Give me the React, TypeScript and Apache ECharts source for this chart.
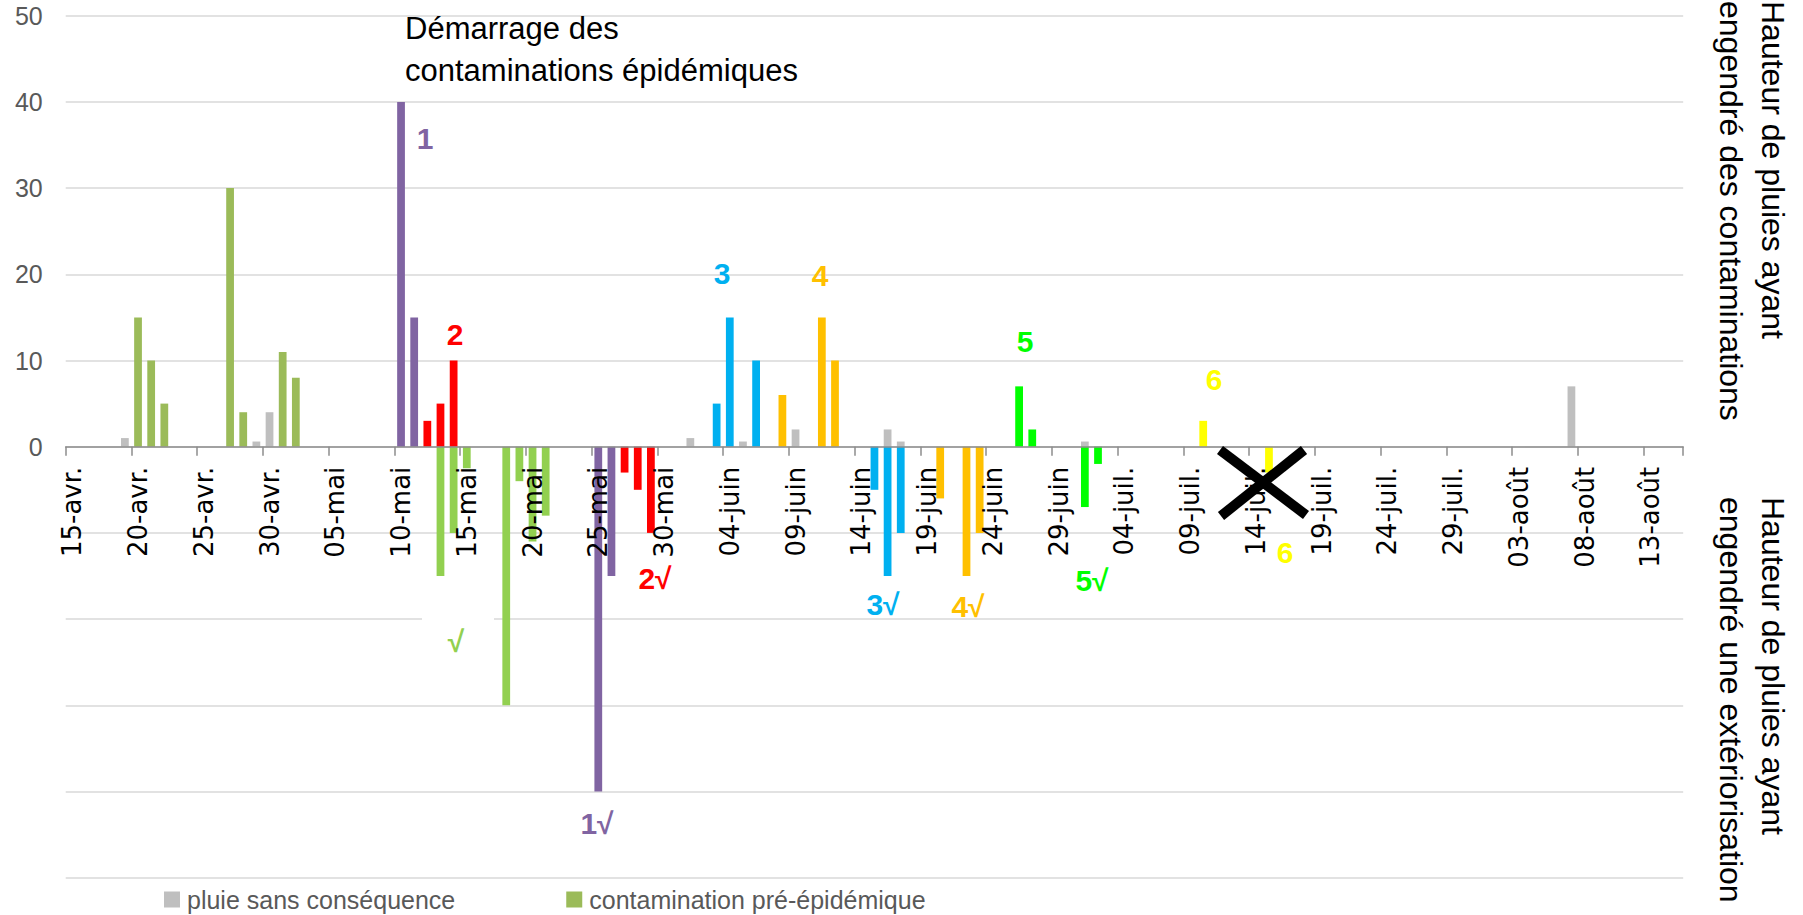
import React, { useEffect, useRef } from "react";
import * as echarts from "echarts";

// ---- categories (days from 15-avr. to 15-août) ----
const monthNames: [string, number, number][] = [
  ["avr.", 15, 30],
  ["mai", 1, 31],
  ["juin", 1, 30],
  ["juil.", 1, 31],
  ["août", 1, 15],
];
const categories: string[] = [];
for (const [name, from, to] of monthNames) {
  for (let d = from; d <= to; d++) categories.push(`${d < 10 ? "0" + d : d}-${name}`);
}

// ---- series values [date, height] ----
const pluieSansConsequence: [string, number][] = [
  ["19-avr.", 1], ["29-avr.", 0.6], ["30-avr.", 4], ["01-juin", 1], ["05-juin", 0.6],
  ["09-juin", 2], ["16-juin", 2], ["17-juin", 0.6], ["01-juil.", 0.6], ["07-août", 7],
];
const contaminationPreEpidemique: [string, number][] = [
  ["20-avr.", 15], ["21-avr.", 10], ["22-avr.", 5], ["27-avr.", 30], ["28-avr.", 4],
  ["01-mai", 11], ["02-mai", 8],
];
const exteriorisationPreEpidemique: [string, number][] = [
  ["13-mai", -15], ["14-mai", -10], ["15-mai", -2.5], ["18-mai", -30], ["19-mai", -4],
  ["20-mai", -11], ["21-mai", -8],
];
const episode1: [string, number][] = [["10-mai", 40], ["11-mai", 15], ["25-mai", -40], ["26-mai", -15]];
const episode2: [string, number][] = [
  ["12-mai", 3], ["13-mai", 5], ["14-mai", 10], ["27-mai", -3], ["28-mai", -5], ["29-mai", -10],
];
const episode3: [string, number][] = [
  ["03-juin", 5], ["04-juin", 15], ["06-juin", 10], ["15-juin", -5], ["16-juin", -15], ["17-juin", -10],
];
const episode4: [string, number][] = [
  ["08-juin", 6], ["11-juin", 15], ["12-juin", 10], ["20-juin", -6], ["22-juin", -15], ["23-juin", -10],
];
const episode5: [string, number][] = [["26-juin", 7], ["27-juin", 2], ["01-juil.", -7], ["02-juil.", -2]];
const episode6: [string, number][] = [["10-juil.", 3], ["15-juil.", -3]];

const yTicks = { min: -50, max: 50, interval: 10 };

const toData = (pairs: [string, number][]) => {
  const m = new Map(pairs);
  return categories.map((c) => (m.has(c) ? m.get(c)! : null));
};

const SANS = "'Liberation Sans', Arial, sans-serif";

const GRID_TOP = 15.7;
const GRID_BOTTOM = 37.3;
const CHART_H = 915;

export default function App() {
  const ref = useRef<HTMLDivElement>(null);
  useEffect(() => {
    if (!ref.current) return;
    const chart = echarts.init(ref.current, null, { renderer: "svg" });
    const bar = (name: string, pairs: [string, number][], color: string) => ({
      name,
      type: "bar",
      stack: "all",
      data: toData(pairs),
      itemStyle: { color },
      barCategoryGap: "41%",
    });
    const label = (text: string, x: number, y: number, color: string) => ({
      type: "text",
      x,
      y,
      z: 100,
      style: {
        text,
        fill: color,
        fontSize: 30,
        fontWeight: "bold",
        fontFamily: SANS,
        align: "center",
        verticalAlign: "middle",
        textAlign: "center",
        textVerticalAlign: "middle",
      },
    });
    // distance from the grid bottom up to the value 0 (axis placed on zero)
    const plotH = CHART_H - GRID_TOP - GRID_BOTTOM;
    const zeroOffset = -(plotH * (0 - yTicks.min)) / (yTicks.max - yTicks.min);
    const option: any = {
      animation: false,
      backgroundColor: "#ffffff",
      grid: {
        left: 65.7,
        right: 119.8,
        top: GRID_TOP,
        bottom: GRID_BOTTOM,
        containLabel: false,
        outerBoundsMode: "none",
      },
      xAxis: {
        type: "category",
        data: categories,
        boundaryGap: true,
        position: "bottom",
        offset: zeroOffset,
        z: 10,
        axisLine: { onZero: false, lineStyle: { color: "#8C8C8C", width: 1.5 } },
        axisTick: { show: true, interval: 4, length: 9, lineStyle: { color: "#8C8C8C", width: 1.5 } },
        axisLabel: {
          interval: 4,
          rotate: 90,
          margin: 20,
          fontSize: 26,
          fontFamily: "'DejaVu Sans', sans-serif",
          color: "#000000",
        },
        splitLine: { show: false },
      },
      yAxis: {
        type: "value",
        min: yTicks.min,
        max: yTicks.max,
        interval: yTicks.interval,
        axisLine: { show: false },
        axisTick: { show: false },
        axisLabel: {
          formatter: (v: number) => (v >= 0 ? String(v) : ""),
          fontSize: 25,
          color: "#595959",
          margin: 23,
          fontFamily: SANS,
        },
        splitLine: { lineStyle: { color: "#D9D9D9", width: 1.5 } },
      },
      legend: {
        data: ["pluie sans conséquence", "contamination pré-épidémique"],
        left: 164,
        top: 887,
        padding: 0,
        icon: "rect",
        itemWidth: 16,
        itemHeight: 16,
        itemGap: 111,
        textStyle: { fontSize: 25, color: "#595959", fontFamily: SANS, padding: [0, 0, 0, 2] },
      },
      series: [
        bar("pluie sans conséquence", pluieSansConsequence, "#BFBFBF"),
        bar("contamination pré-épidémique", contaminationPreEpidemique, "#9BBB59"),
        bar("extériorisation pré-épidémique", exteriorisationPreEpidemique, "#92D050"),
        bar("épisode 1", episode1, "#8064A2"),
        bar("épisode 2", episode2, "#FF0000"),
        bar("épisode 3", episode3, "#00B0F0"),
        bar("épisode 4", episode4, "#FFC000"),
        bar("épisode 5", episode5, "#00FF00"),
        bar("épisode 6", episode6, "#FFFF00"),
      ],
      graphic: [
        {
          type: "text",
          x: 405,
          y: 7,
          z: 100,
          style: {
            text: "Démarrage des\ncontaminations épidémiques",
            fill: "#000000",
            fontSize: 31,
            lineHeight: 42,
            fontFamily: SANS,
            align: "left",
            verticalAlign: "top",
            textAlign: "left",
            textVerticalAlign: "top",
          },
        },
        {
          type: "text",
          x: 1794,
          y: 1,
          rotation: -Math.PI / 2,
          z: 100,
          style: {
            text: "Hauteur de pluies ayant\nengendré des contaminations",
            fill: "#000000",
            fontSize: 32,
            lineHeight: 42,
            fontFamily: SANS,
            align: "left",
            verticalAlign: "top",
            textAlign: "left",
            textVerticalAlign: "top",
          },
        },
        {
          type: "text",
          x: 1794,
          y: 497,
          rotation: -Math.PI / 2,
          z: 100,
          style: {
            text: "Hauteur de pluies ayant\nengendré une extériorisation",
            fill: "#000000",
            fontSize: 32,
            lineHeight: 42,
            fontFamily: SANS,
            align: "left",
            verticalAlign: "top",
            textAlign: "left",
            textVerticalAlign: "top",
          },
        },
        { type: "rect", z: 1, shape: { x: 422, y: 606, width: 72, height: 72 }, style: { fill: "#ffffff" } },
        label("1", 425, 138, "#8064A2"),
        label("2", 455, 334, "#FF0000"),
        label("3", 722, 273, "#00B0F0"),
        label("4", 820, 275, "#FFC000"),
        label("5", 1025, 341, "#00FF00"),
        label("6", 1214, 379, "#FFFF00"),
        label("√", 456, 641, "#92D050"),
        label("1√", 597, 823, "#8064A2"),
        label("2√", 655, 578, "#FF0000"),
        label("3√", 883, 604, "#00B0F0"),
        label("4√", 968, 606, "#FFC000"),
        label("5√", 1092, 580, "#00FF00"),
        label("6", 1285, 552, "#FFFF00"),
        {
          type: "line",
          z: 110,
          shape: { x1: 1220, y1: 450, x2: 1306, y2: 515 },
          style: { stroke: "#000000", lineWidth: 10 },
        },
        {
          type: "line",
          z: 110,
          shape: { x1: 1304, y1: 450, x2: 1221, y2: 516 },
          style: { stroke: "#000000", lineWidth: 10 },
        },
      ],
    };
    chart.setOption(option);
    return () => chart.dispose();
  }, []);
  return (
    <div
      ref={ref}
      style={{ position: "absolute", left: 0, top: 0, width: 1803, height: 915, background: "#fff" }}
    />
  );
}
